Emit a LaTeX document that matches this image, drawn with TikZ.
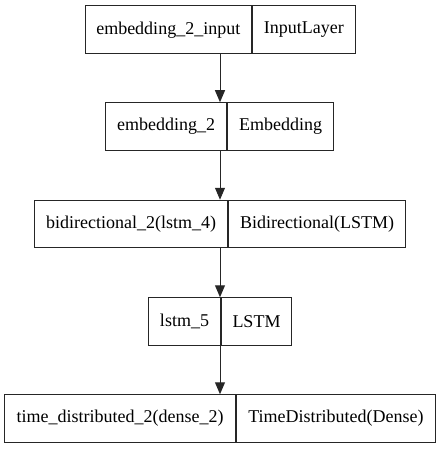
\documentclass[tikz,border=0pt]{standalone}
\usepackage{fontspec}
\setmainfont{Liberation Serif}
\usepackage{tikz}
\usetikzlibrary{arrows.meta, positioning}

\begin{document}
\begin{tikzpicture}[
    x=1pt, y=-1pt,
    font=\fontsize{18}{22}\selectfont,
    cellBox/.style={draw=black!85, line width=1pt, minimum height=47.5pt, inner sep=0pt, align=center},
    leftCell/.style={cellBox, anchor=east},
    rightCell/.style={cellBox, anchor=west},
    flowArrow/.style={draw=black!85, line width=1pt, -{Triangle[length=12pt, width=10pt]}}
]
\useasboundingbox (0,0) rectangle (440,449);
\coordinate (mid) at (220,0);

% Layer 1
\node[leftCell, minimum width=166.5pt] (inL) at (252,29.75) {embedding\_2\_input};
\node[rightCell, minimum width=102.5pt] (inR) at (252,29.75) {InputLayer};

% Layer 2
\node[leftCell, minimum width=121pt] (embL) at (227,126.5) {embedding\_2};
\node[rightCell, minimum width=106pt] (embR) at (227,126.5) {Embedding};

% Layer 3
\node[leftCell, minimum width=193pt] (biL) at (228,224) {bidirectional\_2(lstm\_4)};
\node[rightCell, minimum width=177pt] (biR) at (228,224) {Bidirectional(LSTM)};

% Layer 4
\node[leftCell, minimum width=72pt] (lstmL) at (221,321.5) {lstm\_5};
\node[rightCell, minimum width=70pt] (lstmR) at (221,321.5) {LSTM};

% Layer 5
\node[leftCell, minimum width=231pt] (tdL) at (236,418.5) {time\_distributed\_2(dense\_2)};
\node[rightCell, minimum width=199pt] (tdR) at (236,418.5) {TimeDistributed(Dense)};

% Connectors
\draw[flowArrow] (inL.south -| mid) -- (embL.north -| mid);
\draw[flowArrow] (embL.south -| mid) -- (biL.north -| mid);
\draw[flowArrow] (biL.south -| mid) -- (lstmL.north -| mid);
\draw[flowArrow] (lstmL.south -| mid) -- (tdL.north -| mid);

\end{tikzpicture}
\end{document}
